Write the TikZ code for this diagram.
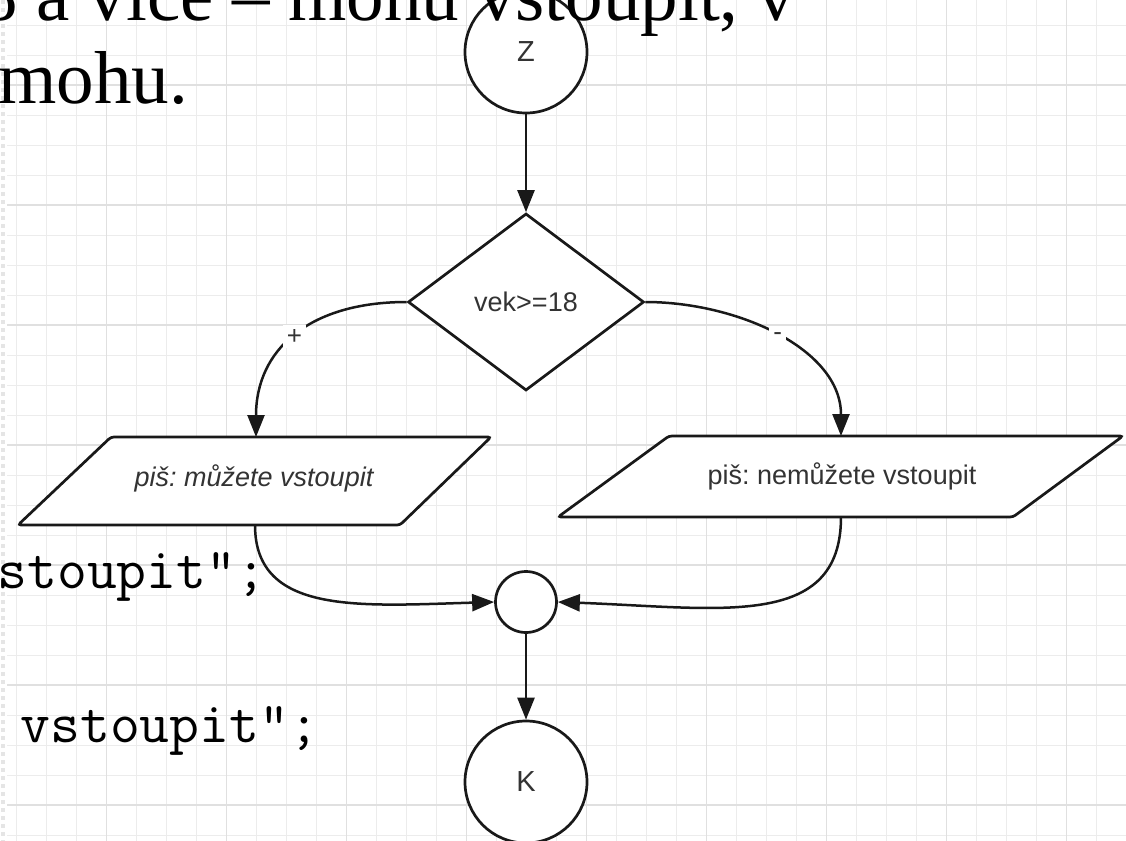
\documentclass[tikz,border=0pt]{standalone}
\usepackage{fontspec}
\setmainfont{Liberation Serif}
\newfontfamily\lsans{Liberation Sans}
\usetikzlibrary{arrows.meta,shapes.geometric}
\definecolor{gridminor}{HTML}{ECECEC}
\definecolor{gridmajor}{HTML}{E0E0E0}
\definecolor{txtgray}{HTML}{333333}
\frenchspacing
\begin{document}
\frenchspacing
\begin{tikzpicture}[x=0.5pt,y=-0.5pt,
  shapeline/.style={draw=black!90, line width=1.35pt, fill=white},
  conn/.style={draw=black!90, line width=1.25pt, -{Triangle[length=11pt,width=8.5pt]}},
  lbl/.style={font=\lsans\fontsize{13.5}{16}\selectfont, text=txtgray},
  lblit/.style={font=\lsans\itshape\fontsize{13.5}{16}\selectfont, text=txtgray},
  circlbl/.style={font=\lsans\fontsize{14.5}{16}\selectfont, text=txtgray},
  edgelbl/.style={font=\lsans\fontsize{13}{15}\selectfont, text=txtgray, fill=white, inner sep=2pt},
  bigtext/.style={font=\fontsize{37.5}{45}\selectfont, anchor=base west, inner sep=0pt},
  codetext/.style={font=\ttfamily\fontsize{29}{34}\selectfont, anchor=base west, inner sep=0pt}]
\useasboundingbox (0,0) rectangle (1126,841);
\clip (0,0) rectangle (1126,841);
% grid
\foreach \xx in {16.7,46.7,...,1110} \draw[gridminor, line width=0.5pt] (\xx,0) -- (\xx,841);
\foreach \yy in {25,55,...,840} \draw[gridminor, line width=0.5pt] (7,\yy) -- (1126,\yy);
\foreach \xx in {106.7,226.7,...,1110} \draw[gridmajor, line width=0.55pt] (\xx,0) -- (\xx,841);
\foreach \yy in {85,205,...,840} \draw[gridmajor, line width=0.55pt] (7,\yy) -- (1126,\yy);
\draw[black!10, line width=2pt, dash pattern=on 2pt off 2pt] (3,0) -- (3,841);
% shapes
\node[circle, shapeline, minimum size=61pt, inner sep=0pt, circlbl] (z) at (526,52) {Z};
\node[diamond, shapeline, minimum width=118pt, minimum height=88.5pt, inner sep=0pt, lbl] (d) at (526,302) {vek>=18};
\draw[shapeline, rounded corners=1.5pt] (18,525) -- (111,437) -- (491,437) -- (400,525) -- cycle;
\node[lblit] (pl) at (254,478) {piš: můžete vstoupit};
\draw[shapeline, rounded corners=1.5pt] (558,517) -- (669,436) -- (1123,436) -- (1013,517) -- cycle;
\node[lbl] (pr) at (842,476) {piš: nemůžete vstoupit};
\coordinate (plt) at (256,437);
\coordinate (plb) at (255,525);
\coordinate (prt) at (841,436);
\coordinate (prb) at (841,517);
\node[circle, shapeline, minimum size=30.5pt, inner sep=0pt] (m) at (526,602) {};
\node[circle, shapeline, minimum size=61pt, inner sep=0pt, circlbl] (k) at (526,782) {K};
% connectors
\draw[conn] (z) -- (d);
\draw[conn] (d.west) .. controls +(-98,0) and +(0,-87) .. (plt) node[pos=0.5, edgelbl] {+};
\draw[conn] (d.east) .. controls +(92,0) and +(0,-87) .. (prt) node[pos=0.5, edgelbl] {-};
\draw[conn] (plb) .. controls +(0,90) and +(-135,4) .. (m.west);
\draw[conn] (prb) .. controls +(0,113) and +(163,6) .. (m.east);
\draw[conn] (m) -- (k);
% background slide text
\node[bigtext] (t1) at (-20,20) {8 a více – mohu vstoupit, v};
\node[bigtext] (t2) at (-2,103) {mohu.};
\node[codetext] (c1) at (-3,588) {stoupit";};
\node[codetext] (c2) at (20,742) {vstoupit";};
\end{tikzpicture}
\end{document}
